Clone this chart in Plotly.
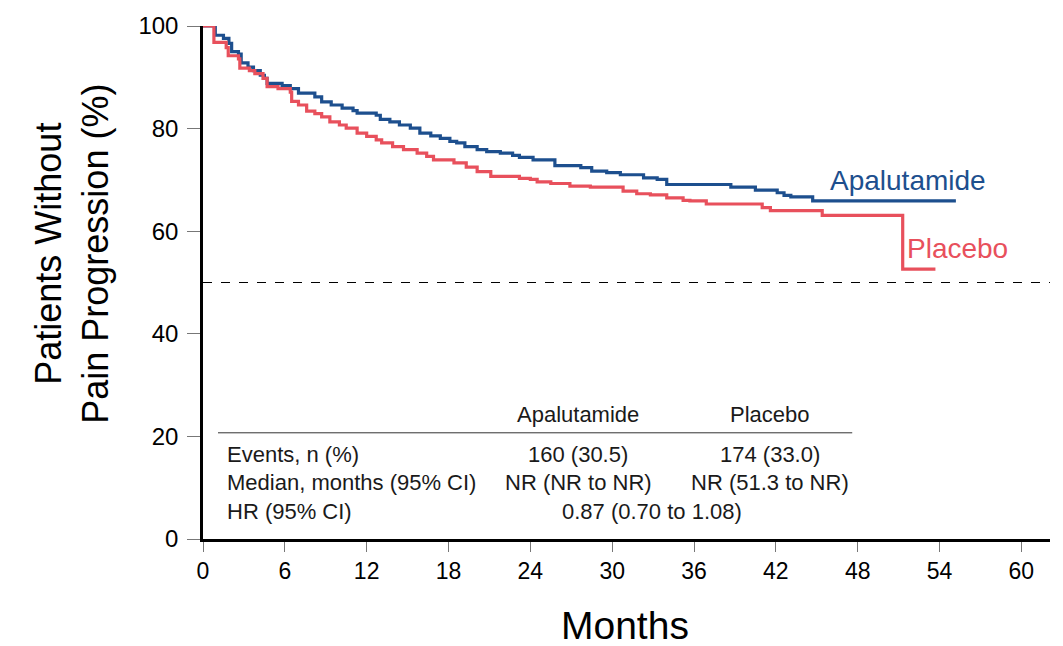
import plotly.graph_objects as go

# Kaplan-Meier step data (months, % without pain progression)
apa_t = [0, 0.9, 1.5, 1.9, 2.1, 2.6, 2.8, 3.3, 3.7, 4.2, 4.5, 4.7, 5.8, 6.4, 7.0, 8.2, 8.7, 9.4,
         10.2, 11.0, 11.3, 12.7, 13.0, 13.7, 14.4, 15.2, 15.9, 16.7, 17.4, 18.1, 18.6, 19.2, 20.1,
         20.8, 21.8, 22.7, 23.2, 24.2, 25.8, 27.7, 28.5, 29.6, 30.6, 32.3, 33.3, 34.0, 38.7, 40.5,
         42.1, 42.6, 43.1, 44.7, 55.2]
apa_v = [100, 98.2, 97.6, 96.6, 95.0, 94.5, 92.8, 92.0, 91.3, 90.4, 89.8, 88.8, 88.4, 87.8, 86.9,
         86.2, 85.2, 84.6, 84.0, 83.5, 83.0, 82.6, 81.8, 81.3, 80.7, 80.1, 79.1, 78.6, 78.1, 77.5,
         77.2, 76.5, 75.9, 75.5, 75.2, 74.8, 74.4, 73.9, 72.8, 72.4, 71.7, 71.4, 71.0, 70.4, 70.1,
         69.1, 68.6, 68.0, 67.5, 67.0, 66.7, 65.9, 65.9]

pla_t = [0, 0.8, 1.7, 1.85, 2.6, 2.7, 3.4, 3.8, 4.4, 4.7, 5.5, 6.4, 6.5, 7.0, 7.6, 8.2, 8.7, 9.3,
         10.0, 10.5, 11.3, 12.0, 12.7, 13.1, 13.9, 14.7, 15.7, 16.4, 16.9, 18.4, 19.3, 20.1, 21.1,
         23.2, 24.0, 24.5, 25.5, 26.9, 28.4, 30.8, 31.8, 32.8, 34.0, 35.2, 35.7, 36.9, 41.0, 41.6,
         45.4, 51.3, 53.7]
pla_v = [100, 96.8, 95.8, 94.2, 93.6, 91.8, 91.3, 90.7, 89.8, 88.2, 87.8, 87.1, 85.3, 84.6, 83.4,
         82.9, 82.3, 81.3, 80.7, 80.1, 79.1, 78.5, 77.8, 77.2, 76.5, 75.9, 75.2, 74.6, 73.9, 73.3,
         72.5, 71.6, 70.7, 70.3, 70.1, 69.6, 69.3, 68.8, 68.6, 67.8, 67.3, 67.1, 66.5, 66.0, 65.9,
         65.3, 64.6, 64.0, 63.1, 52.6, 52.6]

x_ticks = [0, 6, 12, 18, 24, 30, 36, 42, 48, 54, 60]
y_ticks = [0, 20, 40, 60, 80, 100]

table_cols = ["Apalutamide", "Placebo"]
table_rows = ["Events, n (%)", "Median, months (95% CI)", "HR (95% CI)"]
table_apa = ["160 (30.5)", "NR (NR to NR)"]
table_pla = ["174 (33.0)", "NR (51.3 to NR)"]
table_hr = "0.87 (0.70 to 1.08)"

BLUE = "#1d4f8e"
RED = "#e8505c"
FONT = "Liberation Sans, Arial, sans-serif"
TFONT = "Liberation Sans, Arial, sans-serif"
TSIZE = 22
TCOL = "#1a1a1a"

fig = go.Figure()
fig.add_trace(go.Scatter(x=apa_t, y=apa_v, mode="lines", line=dict(color=BLUE, width=3.2, shape="hv"),
                         name="Apalutamide", showlegend=False))
fig.add_trace(go.Scatter(x=pla_t, y=pla_v, mode="lines", line=dict(color=RED, width=3.2, shape="hv"),
                         name="Placebo", showlegend=False))

fig.add_shape(type="line", xref="x", yref="y", x0=0, x1=62.1, y0=50, y1=50,
              line=dict(color="black", width=1, dash="dash"))

# table
fig.add_shape(type="line", xref="x", yref="y", x0=1.1, x1=47.6, y0=20.7, y1=20.7,
              line=dict(color="#333333", width=1))
col_x = [27.5, 41.6]
for cx, name in zip(col_x, table_cols):
    fig.add_annotation(x=cx, y=24.2, xref="x", yref="y", text=name, showarrow=False,
                       xanchor="center", yanchor="middle", font=dict(family=TFONT, size=TSIZE, color=TCOL))
row_y = [16.4, 11.0, 5.4]
for ry, lab in zip(row_y, table_rows):
    fig.add_annotation(x=1.6, y=ry, xref="x", yref="y", text=lab, showarrow=False,
                       xanchor="left", yanchor="middle", font=dict(family=TFONT, size=TSIZE, color=TCOL))
for ry, a, p in zip(row_y[:2], table_apa, table_pla):
    fig.add_annotation(x=col_x[0], y=ry, xref="x", yref="y", text=a, showarrow=False,
                       xanchor="center", yanchor="middle", font=dict(family=TFONT, size=TSIZE, color=TCOL))
    fig.add_annotation(x=col_x[1], y=ry, xref="x", yref="y", text=p, showarrow=False,
                       xanchor="center", yanchor="middle", font=dict(family=TFONT, size=TSIZE, color=TCOL))
fig.add_annotation(x=32.9, y=row_y[2], xref="x", yref="y", text=table_hr, showarrow=False,
                   xanchor="center", yanchor="middle", font=dict(family=TFONT, size=TSIZE, color=TCOL))

# curve labels
fig.add_annotation(x=45.8, y=69.8, xref="x", yref="y", text="Apalutamide", showarrow=False,
                   xanchor="left", yanchor="middle", font=dict(family=FONT, size=28, color=BLUE))
fig.add_annotation(x=51.5, y=56.6, xref="x", yref="y", text="Placebo", showarrow=False,
                   xanchor="left", yanchor="middle", font=dict(family=FONT, size=28, color=RED))

# axis titles
fig.add_annotation(x=-0.1547, y=0.556, xref="paper", yref="paper", text="Patients Without<br>Pain Progression (%)",
                   textangle=-90, showarrow=False, xanchor="center", yanchor="middle",
                   font=dict(family=FONT, size=36, color="black"))
fig.add_annotation(x=0.498, y=-0.168, xref="paper", yref="paper", text="Months", showarrow=False,
                   xanchor="center", yanchor="middle", font=dict(family=FONT, size=39, color="black"))

fig.update_xaxes(range=[0, 62.1], tickvals=x_ticks, ticks="outside", ticklen=10, tickcolor="#777777",
                 tickwidth=1, showline=True, linecolor="black", linewidth=2.5, showgrid=False,
                 zeroline=False, tickfont=dict(family=FONT, size=23, color="black"))
fig.update_yaxes(range=[0, 100], tickvals=y_ticks, ticks="outside", ticklen=13, tickcolor="#777777",
                 tickwidth=1, showline=True, linecolor="black", linewidth=2.5, showgrid=False,
                 zeroline=False, tickfont=dict(family=FONT, size=24, color="black"), ticklabelstandoff=4)

fig.update_layout(width=1063, height=646, margin=dict(l=203, r=13, t=16, b=107),
                  plot_bgcolor="white", paper_bgcolor="white")

fig.write_html("out.html")
